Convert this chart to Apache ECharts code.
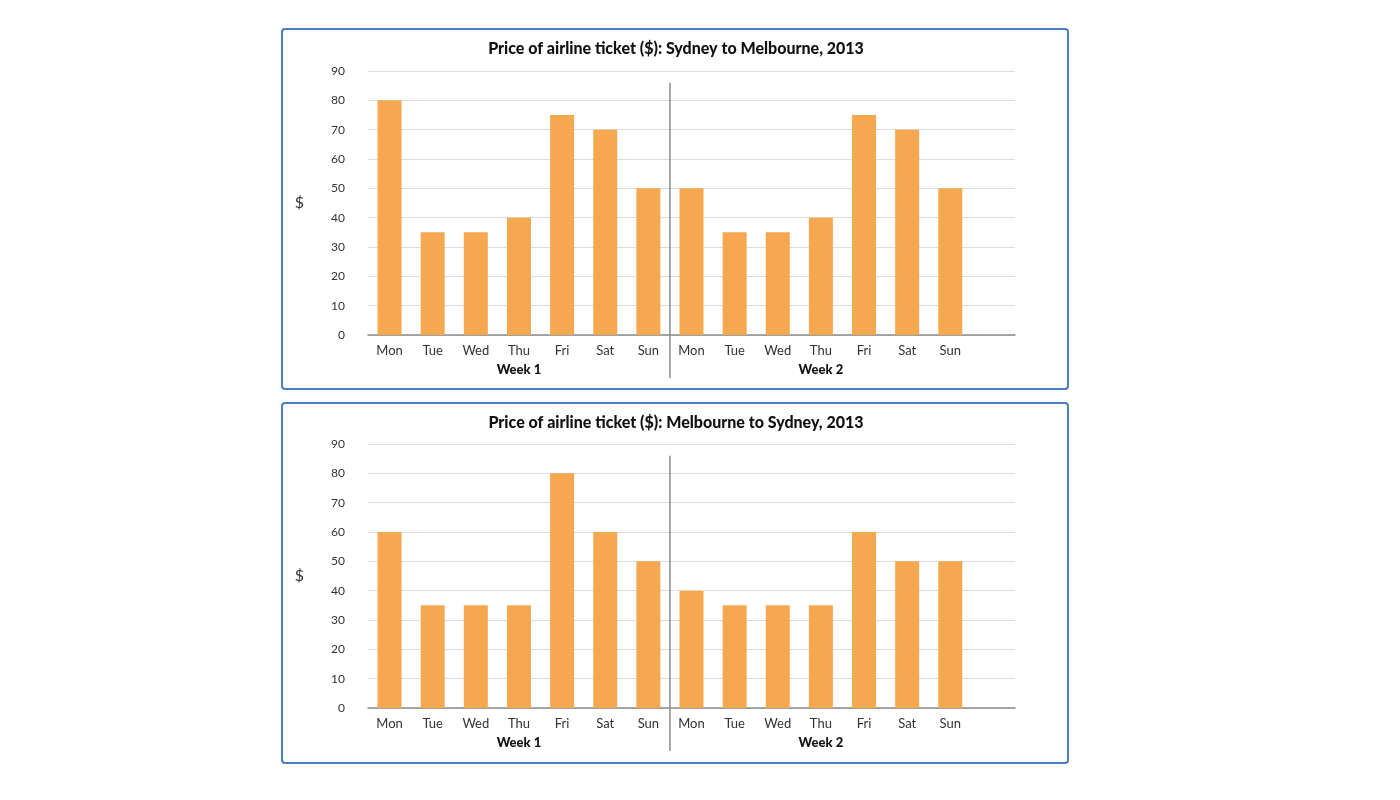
<!DOCTYPE html>
<html>
<head>
<meta charset="utf-8">
<script src="https://cdn.jsdelivr.net/npm/echarts@6/dist/echarts.min.js"></script>
<style>
  html, body { margin: 0; padding: 0; background: #fff; }
  #main { width: 1400px; height: 800px; }
</style>
</head>
<body>
<div id="main"></div>
<script>
// data
const days = ['Mon', 'Tue', 'Wed', 'Thu', 'Fri', 'Sat', 'Sun', 'Mon', 'Tue', 'Wed', 'Thu', 'Fri', 'Sat', 'Sun', '']
const weekNames = ['Week 1', 'Week 2']
const titles = [
  'Price of airline ticket ($): Sydney to Melbourne, 2013',
  'Price of airline ticket ($): Melbourne to Sydney, 2013'
]
const sydToMel = [80, 35, 35, 40, 75, 70, 50, 50, 35, 35, 40, 75, 70, 50]
const melToSyd = [60, 35, 35, 35, 80, 60, 50, 40, 35, 35, 35, 60, 50, 50]

const panelTops = [29, 403]
const font = 'Lato, "Open Sans", sans-serif'

let dom = document.querySelector('#main')
let chart = echarts.init(dom)

function xAxisFor(i) {
  return {
    type: 'category',
    gridIndex: i,
    data: days,
    axisLine: { lineStyle: { color: '#8c8c8c', width: 1.5 } },
    axisTick: { show: false },
    axisLabel: { color: '#333', fontSize: 13, fontFamily: font, margin: 9, interval: 0 }
  }
}
function yAxisFor(i) {
  return {
    type: 'value',
    gridIndex: i,
    min: 0,
    max: 90,
    interval: 10,
    name: '$',
    nameLocation: 'middle',
    nameRotate: 0,
    nameGap: 64,
    nameTextStyle: { color: '#333', fontSize: 16, fontFamily: font },
    axisLine: { show: false },
    axisTick: { show: false },
    axisLabel: { color: '#333', fontSize: 12, fontFamily: font, margin: 23 },
    splitLine: { lineStyle: { color: '#dcdcdc' } }
  }
}

let options = {
  animation: false,
  title: titles.map((t, i) => ({
    text: t,
    left: 671,
    top: panelTops[i] + 7,
    textAlign: 'center',
    textStyle: { fontSize: 16, fontWeight: 900, color: '#111', fontFamily: font }
  })),
  grid: [
    { left: 368, top: 71, width: 647, height: 264 },
    { left: 368, top: 444, width: 647, height: 264 }
  ],
  xAxis: [xAxisFor(0), xAxisFor(1)],
  yAxis: [yAxisFor(0), yAxisFor(1)],
  series: [
    { type: 'bar', xAxisIndex: 0, yAxisIndex: 0, data: sydToMel, barWidth: 24, itemStyle: { color: '#f5a850' } },
    { type: 'bar', xAxisIndex: 1, yAxisIndex: 1, data: melToSyd, barWidth: 24, itemStyle: { color: '#f5a850' } }
  ]
}
chart.setOption(options)

// borders, week separators and week labels
let graphics = []
panelTops.forEach((top, i) => {
  graphics.push({
    type: 'rect',
    shape: { x: 282, y: top, width: 786, height: 360, r: 3 },
    style: { fill: null, stroke: '#4d7cbf', lineWidth: 2 },
    z: 0
  })
  let left = chart.convertToPixel({ xAxisIndex: i }, 6)
  let right = chart.convertToPixel({ xAxisIndex: i }, 7)
  let sepX = (left + right) / 2
  let yTop = chart.convertToPixel({ yAxisIndex: i }, 86)
  let yBase = chart.convertToPixel({ yAxisIndex: i }, 0)
  graphics.push({
    type: 'line',
    shape: { x1: sepX, y1: yTop, x2: sepX, y2: yBase + 43 },
    style: { stroke: '#8c8c8c', lineWidth: 1.5 },
    z: 10
  })
  weekNames.forEach((w, k) => {
    graphics.push({
      type: 'text',
      x: chart.convertToPixel({ xAxisIndex: i }, 3 + k * 7),
      y: yBase + 35,
      style: { text: w, fill: '#111', font: '900 13px ' + font, textAlign: 'center', textVerticalAlign: 'middle' }
    })
  })
})
chart.setOption({ graphic: graphics })
</script>
</body>
</html>
